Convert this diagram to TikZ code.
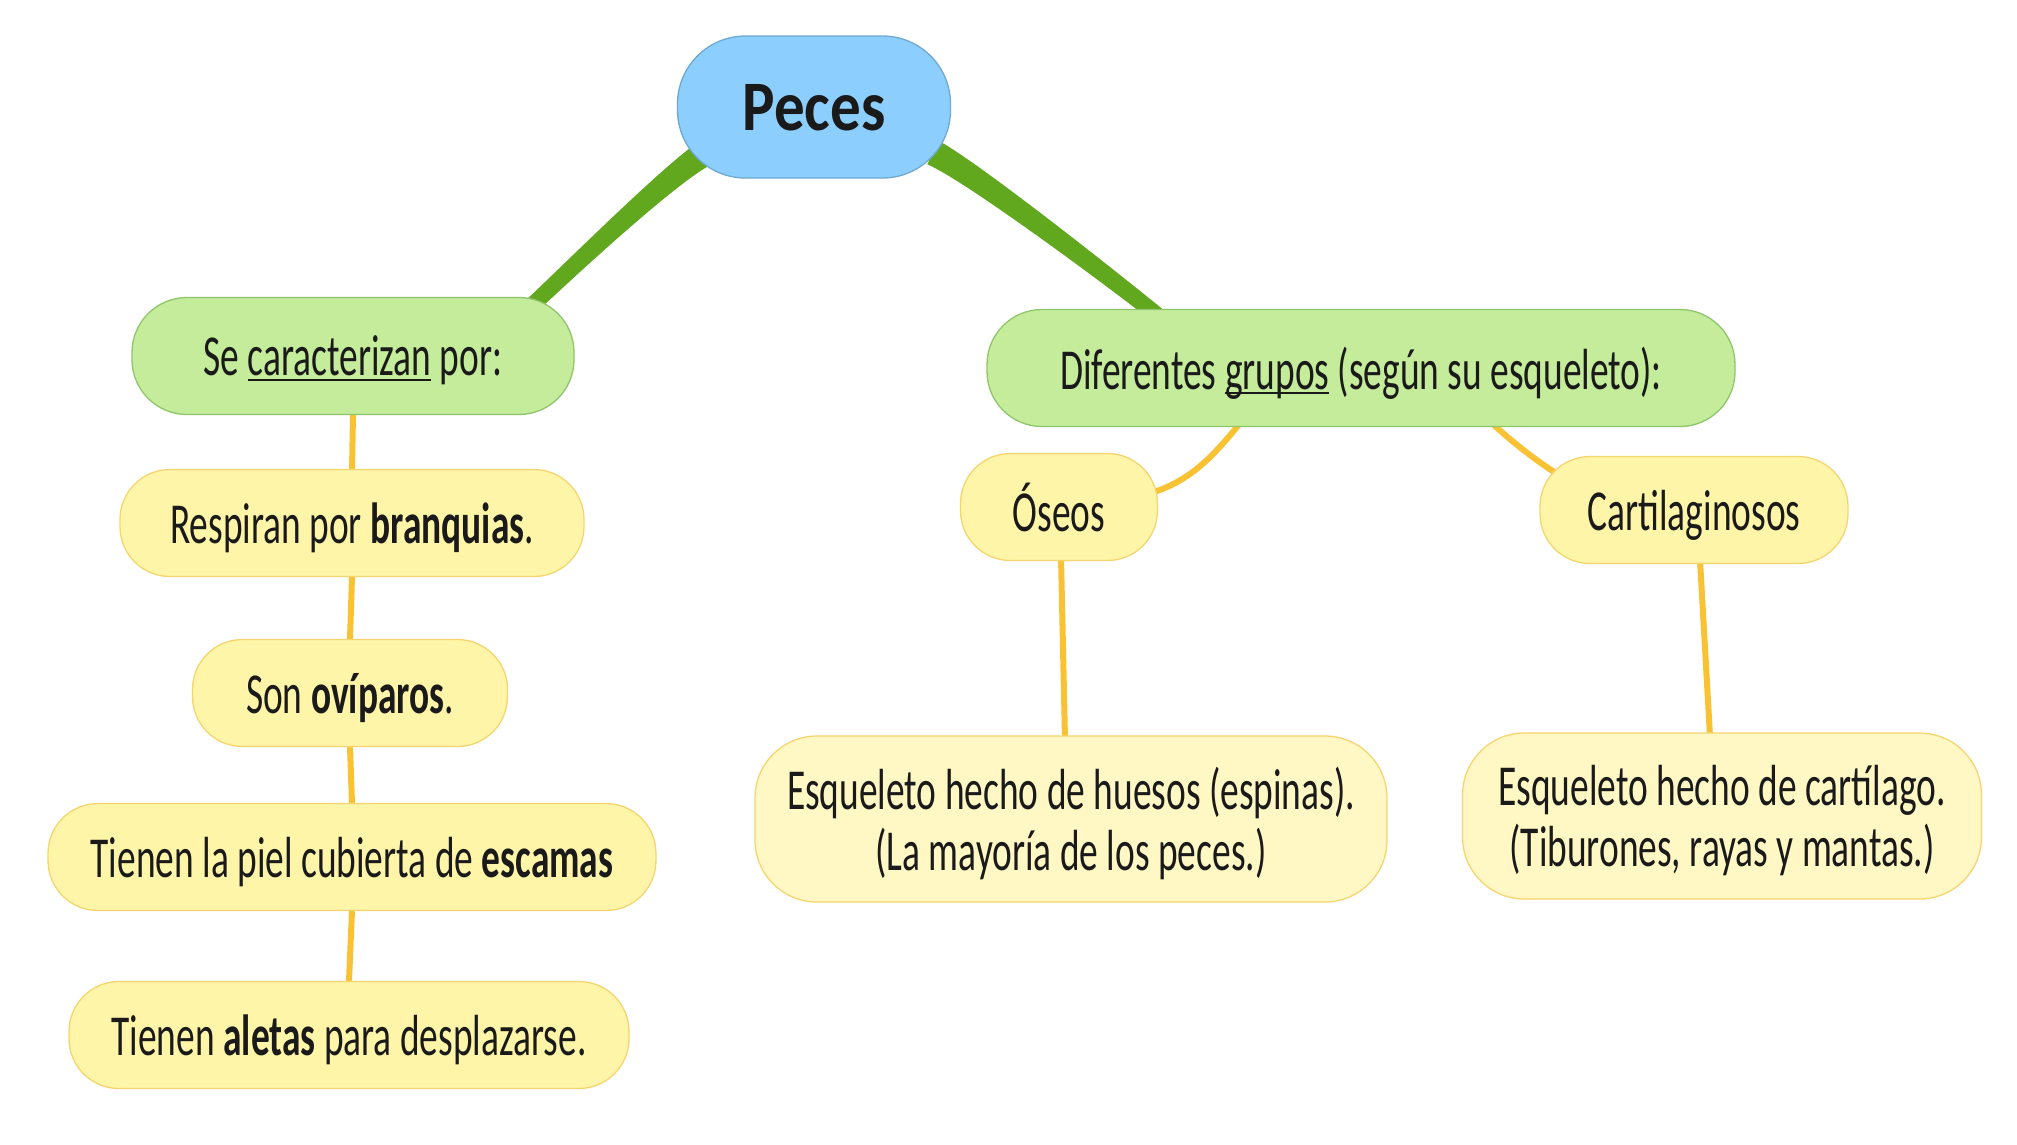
\documentclass[tikz,border=0pt]{standalone}
\usepackage{fontspec}
\setmainfont{Carlito}[FakeStretch=0.645]
\newfontfamily\titlefont{Carlito}[FakeStretch=0.86]
\usetikzlibrary{calc}
\pgfdeclarelayer{bg}
\pgfsetlayers{bg,main}
\definecolor{bluefill}{HTML}{8CCFFF}
\definecolor{blueline}{HTML}{6FA8D0}
\definecolor{greenfill}{HTML}{C5EC9B}
\definecolor{greenline}{HTML}{8FC66C}
\definecolor{yelfill}{HTML}{FFF5A9}
\definecolor{yelfill2}{HTML}{FFF8C4}
\definecolor{yelline}{HTML}{F6D56E}
\definecolor{branchgreen}{HTML}{62A81F}
\definecolor{branchyel}{HTML}{F8C233}
\definecolor{txt}{HTML}{1A1A1A}
\newcommand\ulword[1]{\setbox0\hbox{#1}\rlap{\rule[-0.09em]{\wd0}{0.045em}}\box0\relax}
\begin{document}
\begin{tikzpicture}[x=1pt,y=-1pt,
  box/.style={rectangle, inner sep=0pt, align=center, text=txt, line width=1.3pt, text depth=-7pt, font=\fontsize{58}{61}\selectfont},
  rootbox/.style={box, fill=bluefill, draw=blueline, rounded corners=68pt, minimum width=273pt, minimum height=142pt, text depth=0pt, font=\titlefont\bfseries\fontsize{71}{71}\selectfont},
  topicbox/.style={box, fill=greenfill, draw=greenline, rounded corners=55pt, minimum height=117pt},
  leafbox/.style={box, fill=yelfill, draw=yelline, rounded corners=50pt, minimum height=107pt},
  notebox/.style={box, fill=yelfill2, draw=yelline, rounded corners=62pt, minimum height=166pt, text depth=-4pt},
  link/.style={draw=branchyel, line width=6pt},
  branch/.style={fill=branchgreen},
]
\useasboundingbox (0,0) rectangle (2017,1144);

% nodes
\node[rootbox] (peces) at (814,107) {Peces};
\node[topicbox, minimum width=442pt] (carac) at (353,356) {Se \ulword{caracterizan} por:};
\node[topicbox, minimum width=748pt] (dif) at (1361,368) {Diferentes \ulword{grupos} (según su esqueleto):};
\node[leafbox, minimum width=464pt] (resp) at (352,523) {Respiran por \textbf{branquias}.};
\node[leafbox, minimum width=315pt] (ovip) at (350,693) {Son \textbf{ovíparos}.};
\node[leafbox, minimum width=608pt] (piel) at (352,857) {Tienen la piel cubierta de \textbf{escamas}};
\node[leafbox, minimum width=560pt] (aletas) at (349,1035) {Tienen \textbf{aletas} para desplazarse.};
\node[leafbox, minimum width=197pt] (oseos) at (1059,507) {Óseos};
\node[leafbox, minimum width=308pt] (cart) at (1694,510) {Cartilaginosos};
\node[notebox, minimum width=632pt] (esqh) at (1071,819) {Esqueleto hecho de huesos (espinas).\\(La mayoría de los peces.)};
\node[notebox, minimum width=519pt] (esqc) at (1722,816) {Esqueleto hecho de cartílago.\\(Tiburones, rayas y mantas.)};

% connector anchor points
\coordinate (lS) at ($(peces.south west)+(29,-26)$);
\coordinate (lE) at ($(carac.north east)+(-42,8)$);
\coordinate (rS) at ($(peces.south east)+(-18,-26)$);
\coordinate (rE) at ($(dif.north west)+(173,8)$);

\begin{pgfonlayer}{bg}
\fill[white] (0,0) rectangle (2017,1144);
% tapered green branches
\fill[branch] ($(lS)+(6.5,11.3)$) .. controls (678,181) and (580.5,271) .. ($(lE)+(5.4,5.9)$)
  -- ($(lE)+(-5.4,-5.9)$) .. controls (569.5,259) and (666,163) .. ($(lS)+(-6.5,-11.3)$) -- cycle;
\fill[branch] ($(rS)+(-5.8,11.6)$) .. controls (967.5,182) and (1114.8,291.5) .. ($(rE)+(-5.1,6.2)$)
  -- ($(rE)+(5.1,-6.2)$) .. controls (1125.2,278.5) and (978.5,162) .. ($(rS)+(5.8,-11.6)$) -- cycle;
% yellow links
\draw[link] (carac.south) -- (resp.north);
\draw[link] (resp.south) -- (ovip.north);
\draw[link] (ovip.south) -- (piel.north);
\draw[link] (piel.south) -- (aletas.north);
\draw[link] ($(dif.south)+(-121,-4)$) .. controls (1212,458) and (1190,480) .. ($(oseos.east)+(-4,-15)$);
\draw[link] ($(dif.south)+(131,-4)$) .. controls (1512,442) and (1538,462) .. ($(cart.west)+(18,-36)$);
\draw[link] ($(oseos.south)+(2,-4)$) -- ($(esqh.north)+(-6,4)$);
\draw[link] ($(cart.south)+(6,-4)$) -- ($(esqc.north)+(-12,4)$);
\end{pgfonlayer}
\end{tikzpicture}
\end{document}
